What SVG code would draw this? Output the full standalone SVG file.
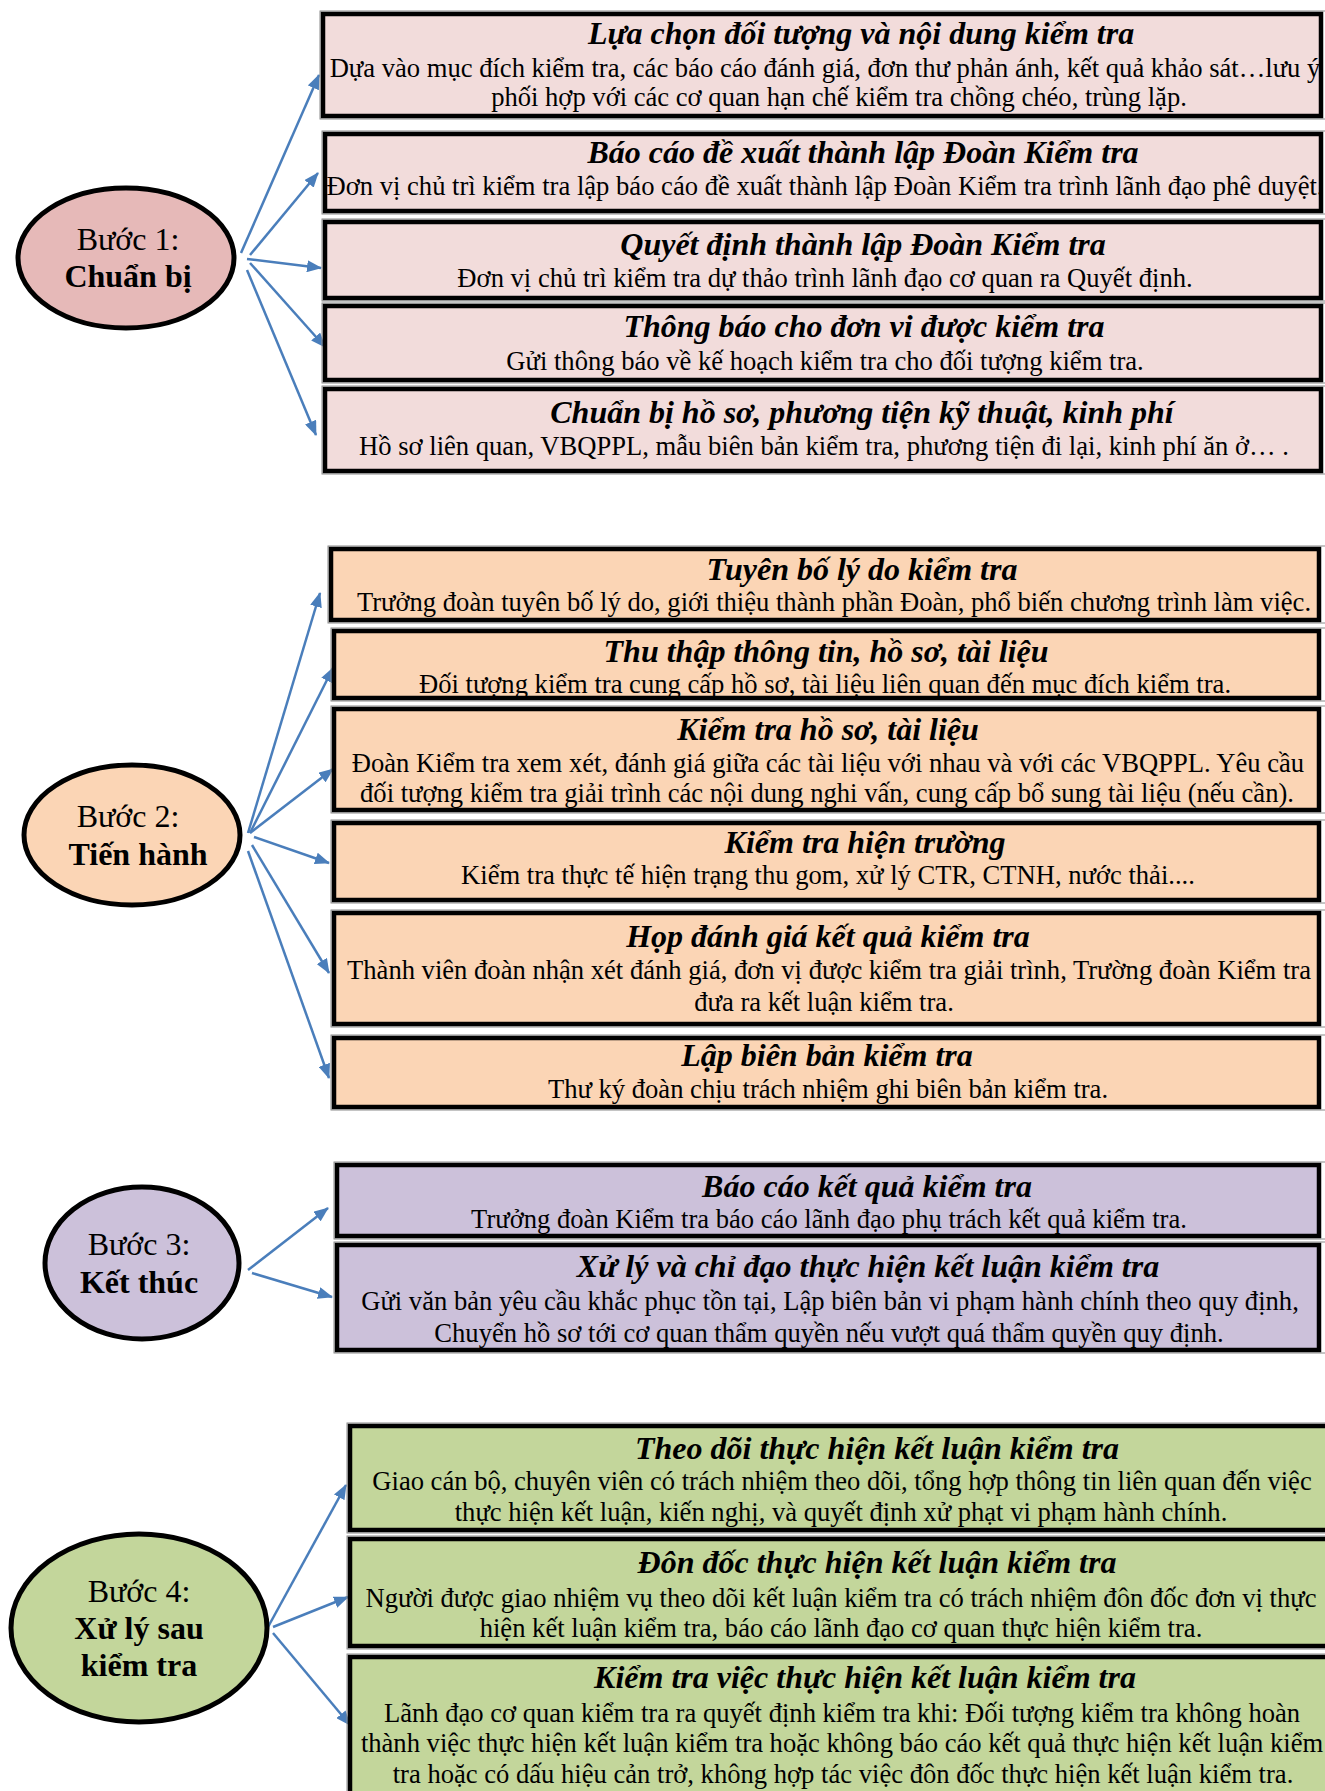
<svg xmlns="http://www.w3.org/2000/svg" width="1325" height="1791" viewBox="0 0 1325 1791">
<defs>
<marker id="ah" markerUnits="userSpaceOnUse" markerWidth="15" markerHeight="12" refX="14" refY="6" orient="auto">
<path d="M0,0 L15,6 L0,12 z" fill="#4A7EBB"/>
</marker>
<style>
.box{stroke:#000;stroke-width:4.5}
.out{fill:none;stroke:#8a8a8a;stroke-width:1}
.ell{stroke:#000;stroke-width:5}
.p1{fill:#F2DCDB}.e1{fill:#E6B9B8}
.p2{fill:#FBD5B5}
.p3{fill:#CCC1DA}
.p4{fill:#C3D69B}
text{font-family:"Liberation Serif","Times New Roman",serif;fill:#000;text-anchor:middle}
.t{font-size:32px;font-weight:bold;font-style:italic}
.b{font-size:26.6px}
.er{font-size:32px}
.eb{font-size:32px;font-weight:bold}
.c line{stroke:#4A7EBB;stroke-width:2.5;marker-end:url(#ah)}
</style>
</defs>
<rect width="1325" height="1791" fill="#fff"/>

<g class="c" id="connectors">
<line x1="241" y1="253" x2="319" y2="75"/>
<line x1="250" y1="255" x2="318" y2="173"/>
<line x1="247" y1="259" x2="321" y2="268"/>
<line x1="250" y1="263" x2="325" y2="347"/>
<line x1="247" y1="270" x2="316" y2="435"/>

<line x1="248" y1="833" x2="320" y2="593"/>
<line x1="250" y1="833" x2="333" y2="668"/>
<line x1="250" y1="833" x2="333" y2="769"/>
<line x1="254" y1="837" x2="329" y2="863"/>
<line x1="252" y1="845" x2="329" y2="973"/>
<line x1="248" y1="851" x2="329" y2="1078"/>

<line x1="248" y1="1270" x2="328" y2="1208"/>
<line x1="252" y1="1273" x2="332" y2="1297"/>

<line x1="268" y1="1627" x2="346" y2="1485"/>
<line x1="273" y1="1627" x2="348" y2="1597"/>
<line x1="273" y1="1633" x2="350" y2="1725"/>
</g>

<!-- Step 1 -->
<g id="step1">
<ellipse class="ell e1" cx="126" cy="258" rx="108" ry="70"/>
<text class="er" x="128" y="250">Bước 1:</text>
<text class="eb" x="128" y="287">Chuẩn bị</text>
</g>
<g id="s1b1">
<rect class="out" x="320" y="11" width="1010" height="108"/>
<rect class="box p1" x="323" y="14" width="998" height="102"/>
<text class="t" x="861" y="44">Lựa chọn đối tượng và nội dung kiểm tra</text>
<text class="b" x="825" y="77">Dựa vào mục đích kiểm tra, các báo cáo đánh giá, đơn thư phản ánh, kết quả khảo sát…lưu ý</text>
<text class="b" x="839" y="106">phối hợp với các cơ quan hạn chế kiểm tra chồng chéo, trùng lặp.</text>
</g>
<g id="s1b2">
<rect class="out" x="322" y="131" width="1010" height="83"/>
<rect class="box p1" x="325" y="134" width="996" height="77"/>
<text class="t" x="863" y="163">Báo cáo đề xuất thành lập Đoàn Kiểm tra</text>
<text class="b" x="825" y="195">Đơn vị chủ trì kiểm tra lập báo cáo đề xuất thành lập Đoàn Kiểm tra trình lãnh đạo phê duyệt.</text>
</g>
<g id="s1b3">
<rect class="out" x="322" y="219" width="1010" height="82"/>
<rect class="box p1" x="325" y="222" width="996" height="76"/>
<text class="t" x="863" y="255">Quyết định thành lập Đoàn Kiểm tra</text>
<text class="b" x="825" y="287">Đơn vị chủ trì kiểm tra dự thảo trình lãnh đạo cơ quan ra Quyết định.</text>
</g>
<g id="s1b4">
<rect class="out" x="322" y="303" width="1010" height="80"/>
<rect class="box p1" x="325" y="306" width="996" height="74"/>
<text class="t" x="864" y="337">Thông báo cho đơn vi được kiểm tra</text>
<text class="b" x="825" y="370">Gửi thông báo về kế hoạch kiểm tra cho đối tượng kiểm tra.</text>
</g>
<g id="s1b5">
<rect class="out" x="322" y="386" width="1010" height="88"/>
<rect class="box p1" x="325" y="389" width="996" height="82"/>
<text class="t" x="862" y="423">Chuẩn bị hồ sơ, phương tiện kỹ thuật, kinh phí</text>
<text class="b" x="824" y="455">Hồ sơ liên quan, VBQPPL, mẫu biên bản kiểm tra, phương tiện đi lại, kinh phí ăn ở… .</text>
</g>

<!-- Step 2 -->
<g id="step2">
<ellipse class="ell p2" cx="132" cy="835" rx="108" ry="70"/>
<text class="er" x="128" y="827">Bước 2:</text>
<text class="eb" x="138" y="865">Tiến hành</text>
</g>
<g id="s2b1">
<rect class="out" x="328" y="546" width="1000" height="77"/>
<rect class="box p2" x="331" y="549" width="988" height="71"/>
<text class="t" x="862" y="580">Tuyên bố lý do kiểm tra</text>
<text class="b" x="834" y="611">Trưởng đoàn tuyên bố lý do, giới thiệu thành phần Đoàn, phổ biến chương trình làm việc.</text>
</g>
<g id="s2b2">
<rect class="out" x="331" y="628" width="1000" height="73"/>
<rect class="box p2" x="334" y="631" width="985" height="67"/>
<text class="t" x="826" y="662">Thu thập thông tin, hồ sơ, tài liệu</text>
<text class="b" x="825" y="693">Đối tượng kiểm tra cung cấp hồ sơ, tài liệu liên quan đến mục đích kiểm tra.</text>
</g>
<g id="s2b3">
<rect class="out" x="331" y="706" width="1000" height="107"/>
<rect class="box p2" x="334" y="709" width="985" height="101"/>
<text class="t" x="828" y="740">Kiểm tra hồ sơ, tài liệu</text>
<text class="b" x="828" y="772">Đoàn Kiểm tra xem xét, đánh giá giữa các tài liệu với nhau và với các VBQPPL. Yêu cầu</text>
<text class="b" x="827" y="802">đối tượng kiểm tra giải trình các nội dung nghi vấn, cung cấp bổ sung tài liệu (nếu cần).</text>
</g>
<g id="s2b4">
<rect class="out" x="331" y="820" width="1000" height="83"/>
<rect class="box p2" x="334" y="823" width="985" height="77"/>
<text class="t" x="865" y="853">Kiểm tra hiện trường</text>
<text class="b" x="828" y="884">Kiểm tra thực tế hiện trạng thu gom, xử lý CTR, CTNH, nước thải....</text>
</g>
<g id="s2b5">
<rect class="out" x="331" y="910" width="1000" height="117"/>
<rect class="box p2" x="334" y="913" width="985" height="111"/>
<text class="t" x="828" y="947">Họp đánh giá kết quả kiểm tra</text>
<text class="b" x="829" y="979">Thành viên đoàn nhận xét đánh giá, đơn vị được kiểm tra giải trình, Trường đoàn Kiểm tra</text>
<text class="b" x="824" y="1011">đưa ra kết luận kiểm tra.</text>
</g>
<g id="s2b6">
<rect class="out" x="331" y="1035" width="1000" height="75"/>
<rect class="box p2" x="334" y="1038" width="985" height="69"/>
<text class="t" x="827" y="1066">Lập biên bản kiểm tra</text>
<text class="b" x="828" y="1098">Thư ký đoàn chịu trách nhiệm ghi biên bản kiểm tra.</text>
</g>

<!-- Step 3 -->
<g id="step3">
<ellipse class="ell p3" cx="142" cy="1263" rx="97" ry="76"/>
<text class="er" x="139" y="1255">Bước 3:</text>
<text class="eb" x="139" y="1293">Kết thúc</text>
</g>
<g id="s3b1">
<rect class="out" x="334" y="1162" width="1000" height="77"/>
<rect class="box p3" x="337" y="1165" width="982" height="71"/>
<text class="t" x="867" y="1197">Báo cáo kết quả kiểm tra</text>
<text class="b" x="829" y="1228">Trưởng đoàn Kiểm tra báo cáo lãnh đạo phụ trách kết quả kiểm tra.</text>
</g>
<g id="s3b2">
<rect class="out" x="334" y="1242" width="1000" height="111"/>
<rect class="box p3" x="337" y="1245" width="982" height="105"/>
<text class="t" x="868" y="1277">Xử lý và chỉ đạo thực hiện kết luận kiểm tra</text>
<text class="b" x="830" y="1310">Gửi văn bản yêu cầu khắc phục tồn tại, Lập biên bản vi phạm hành chính theo quy định,</text>
<text class="b" x="829" y="1342">Chuyển hồ sơ tới cơ quan thẩm quyền nếu vượt quá thẩm quyền quy định.</text>
</g>

<!-- Step 4 -->
<g id="step4">
<ellipse class="ell p4" cx="139" cy="1628" rx="128" ry="94"/>
<text class="er" x="139" y="1602">Bước 4:</text>
<text class="eb" x="139" y="1639">Xử lý sau</text>
<text class="eb" x="139" y="1676">kiểm tra</text>
</g>
<g id="s4b1">
<rect class="out" x="347" y="1423" width="1000" height="110"/>
<rect class="box p4" x="350" y="1426" width="990" height="104"/>
<text class="t" x="877" y="1459">Theo dõi thực hiện kết luận kiểm tra</text>
<text class="b" x="842" y="1490">Giao cán bộ, chuyên viên có trách nhiệm theo dõi, tổng hợp thông tin liên quan đến việc</text>
<text class="b" x="841" y="1521">thực hiện kết luận, kiến nghị, và quyết định xử phạt vi phạm hành chính.</text>
</g>
<g id="s4b2">
<rect class="out" x="347" y="1536" width="1000" height="113"/>
<rect class="box p4" x="350" y="1539" width="990" height="107"/>
<text class="t" x="877" y="1573">Đôn đốc thực hiện kết luận kiểm tra</text>
<text class="b" x="841" y="1607">Người được giao nhiệm vụ theo dõi kết luận kiểm tra có trách nhiệm đôn đốc đơn vị thực</text>
<text class="b" x="841" y="1637">hiện kết luận kiểm tra, báo cáo lãnh đạo cơ quan thực hiện kiểm tra.</text>
</g>
<g id="s4b3">
<rect class="out" x="347" y="1654" width="1000" height="160"/>
<rect class="box p4" x="350" y="1657" width="990" height="150"/>
<text class="t" x="865" y="1688">Kiểm tra việc thực hiện kết luận kiểm tra</text>
<text class="b" x="842" y="1722">Lãnh đạo cơ quan kiểm tra ra quyết định kiểm tra khi: Đối tượng kiểm tra không hoàn</text>
<text class="b" x="842" y="1752">thành việc thực hiện kết luận kiểm tra hoặc không báo cáo kết quả thực hiện kết luận kiểm</text>
<text class="b" x="843" y="1783">tra hoặc có dấu hiệu cản trở, không hợp tác việc đôn đốc thực hiện kết luận kiểm tra.</text>
</g>
</svg>
